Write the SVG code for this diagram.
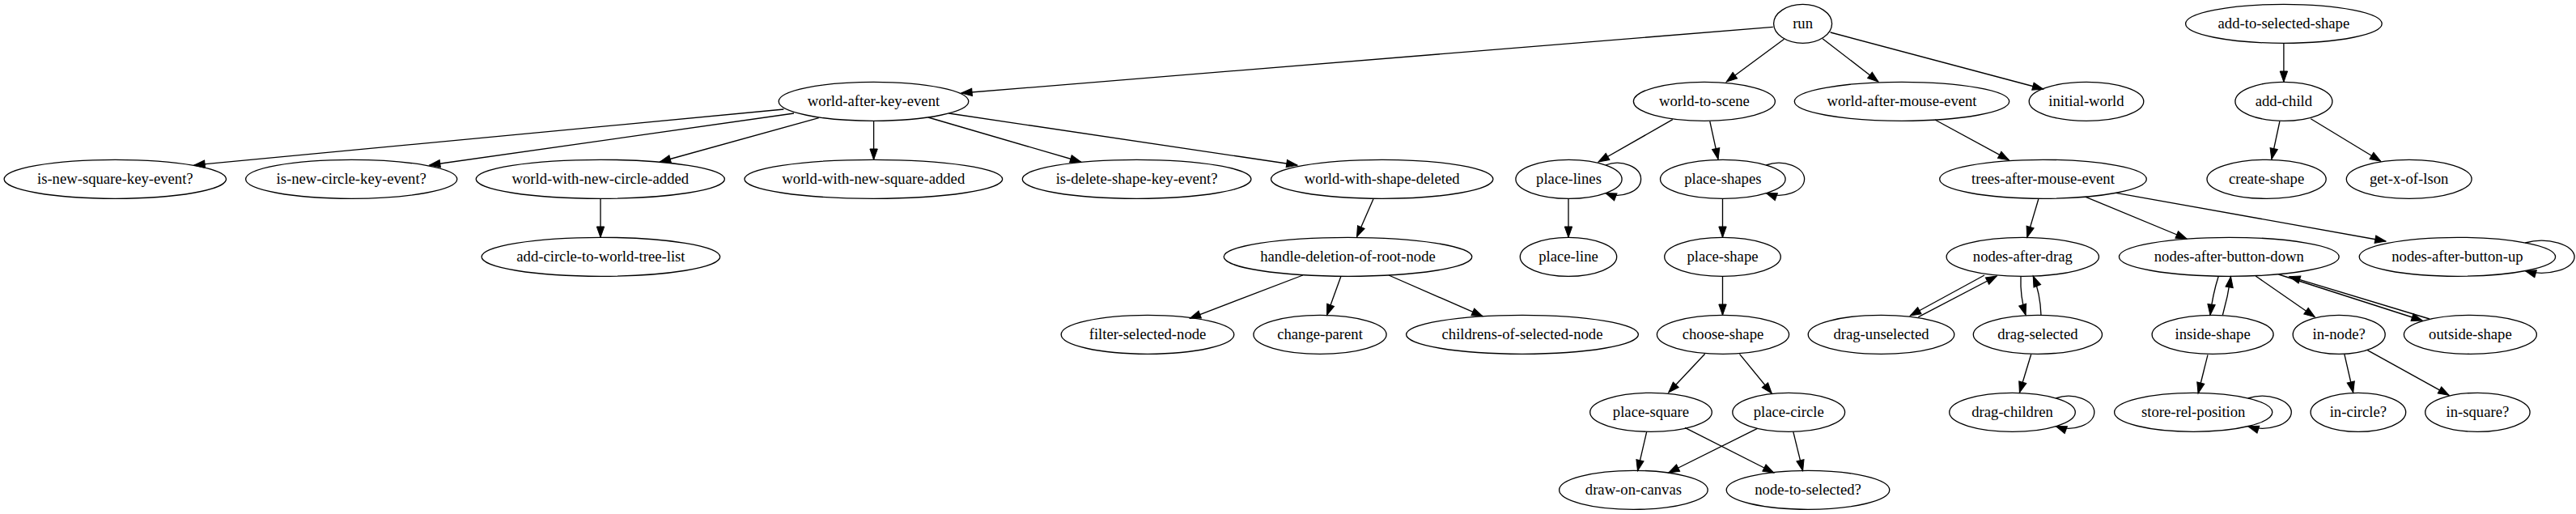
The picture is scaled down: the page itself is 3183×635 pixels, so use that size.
<svg xmlns="http://www.w3.org/2000/svg" width="3183" height="635" viewBox="0 0 3183 635">
<style>
.n ellipse{fill:none;stroke:#000;stroke-width:1.33}
.n text{font-family:"Liberation Serif","Times New Roman",serif;font-size:18.67px;text-anchor:middle;fill:#000}
#edges path{fill:none;stroke:#000;stroke-width:1.33;marker-end:url(#ah)}
</style>
<defs>
<marker id="ah" markerUnits="userSpaceOnUse" markerWidth="14" markerHeight="10" viewBox="0 0 14 10" refX="13.3" refY="4.7" orient="auto" overflow="visible">
<path d="M0,0 L13.3,4.7 L0,9.4 z" fill="#000" stroke="#000" stroke-width="1"/>
</marker>
</defs>
<rect x="0" y="0" width="3183" height="635" fill="#fff"/>
<g id="edges">
<path d="M2190.8,33.3 L1187.8,115"/>
<path d="M2204.6,48.3 L2133.2,101"/>
<path d="M2252,47.7 L2321,101"/>
<path d="M2261.7,40 L2524.8,110"/>
<path d="M968.4,135 L239.8,204"/>
<path d="M981,140 L530.6,204"/>
<path d="M1011.7,145.7 L815.3,200"/>
<path d="M1079.6,150 L1079.6,197.3"/>
<path d="M1146.9,145 L1335.7,200"/>
<path d="M1172.4,140 L1603,204"/>
<path d="M742,245.3 L742,293.3"/>
<path d="M1696.9,246 L1676.5,292.7"/>
<path d="M1609.8,340 L1470.3,393.3"/>
<path d="M1656.8,341.7 L1639.6,389.3"/>
<path d="M1716,340 L1832,390.7"/>
<path d="M2066.8,147.7 L1975,200"/>
<path d="M2112.8,150 L2123,196.7"/>
<path d="M1983.9,204 C2003.6,196.3 2027.6,206.3 2027.6,221.3 C2027.6,236.3 2003.6,246.3 1983.9,238.6"/>
<path d="M2182.3,204 C2203.6,196.3 2229.6,206.3 2229.6,221.3 C2229.6,236.3 2203.6,246.3 2182.3,238.6"/>
<path d="M1938,245.3 L1938,293.3"/>
<path d="M2128.5,245.3 L2128.5,293.3"/>
<path d="M2128.5,341.3 L2128.5,389.3"/>
<path d="M2106.6,437.3 L2061.7,485"/>
<path d="M2149.5,437.3 L2189.3,486"/>
<path d="M2034.7,533.3 L2023.5,581.7"/>
<path d="M2082,528.3 L2191.8,584"/>
<path d="M2171.4,529.3 L2061.7,584"/>
<path d="M2215.8,533.3 L2227.6,581.7"/>
<path d="M2391,148 L2482.4,197.7"/>
<path d="M2518.8,246 L2504.8,293.3"/>
<path d="M2577.2,243.3 L2702,295"/>
<path d="M2614.7,238.3 L2948,298"/>
<path d="M3120.3,300 C3147.7,292.3 3181.1,302.3 3181.1,317.3 C3181.1,332.3 3147.7,342.3 3120.3,334.6"/>
<path d="M2452,340 L2360.2,390"/>
<path d="M2370.4,391.7 L2467.3,341"/>
<path d="M2497,341.7 Q2496,366 2503,389.3"/>
<path d="M2522,389.3 Q2521,362 2512.2,341"/>
<path d="M2509.7,437.7 L2495.4,485"/>
<path d="M2540.3,492 C2561.7,484.3 2587.8,494.3 2587.8,509.3 C2587.8,524.3 2561.7,534.3 2540.3,526.6"/>
<path d="M2741.1,341.7 Q2734,364 2731,389.3"/>
<path d="M2746.4,389.3 Q2753,366 2756.5,341.7"/>
<path d="M2787.2,341 L2860.4,391.7"/>
<path d="M2815.6,339 L2993.2,396"/>
<path d="M3002,394 L2828.8,341.7"/>
<path d="M2728,438.3 L2716.1,486"/>
<path d="M2777.7,492 C2801.8,484.3 2831.3,494.3 2831.3,509.3 C2831.3,524.3 2801.8,534.3 2777.7,526.6"/>
<path d="M2896.8,437.3 L2907.7,485"/>
<path d="M2925.3,432.7 L3026.1,488.3"/>
<path d="M2821.9,53.3 L2821.9,101.3"/>
<path d="M2816.9,150 L2806.9,196.7"/>
<path d="M2855.3,146.7 L2941.8,199.3"/>
</g>
<g id="run" class="n"><ellipse cx="2227.6" cy="29.3" rx="36" ry="24"/><text x="2227.6" y="35.1">run</text></g>
<g id="world-after-key-event" class="n"><ellipse cx="1079.5" cy="125.3" rx="117.3" ry="24"/><text x="1079.5" y="131.1">world-after-key-event</text></g>
<g id="world-to-scene" class="n"><ellipse cx="2105.9" cy="125.3" rx="87.5" ry="24"/><text x="2105.9" y="131.1">world-to-scene</text></g>
<g id="world-after-mouse-event" class="n"><ellipse cx="2350" cy="125.3" rx="132.7" ry="24"/><text x="2350" y="131.1">world-after-mouse-event</text></g>
<g id="initial-world" class="n"><ellipse cx="2578" cy="125.3" rx="70.8" ry="24"/><text x="2578" y="131.1">initial-world</text></g>
<g id="add-to-selected-shape" class="n"><ellipse cx="2821.9" cy="29.3" rx="121.3" ry="24"/><text x="2821.9" y="35.1">add-to-selected-shape</text></g>
<g id="add-child" class="n"><ellipse cx="2821.9" cy="125.3" rx="60" ry="24"/><text x="2821.9" y="131.1">add-child</text></g>
<g id="is-new-square-key-event" class="n"><ellipse cx="142.3" cy="221.3" rx="137.2" ry="24"/><text x="142.3" y="227.1">is-new-square-key-event?</text></g>
<g id="is-new-circle-key-event" class="n"><ellipse cx="434.2" cy="221.3" rx="130.6" ry="24"/><text x="434.2" y="227.1">is-new-circle-key-event?</text></g>
<g id="world-with-new-circle-added" class="n"><ellipse cx="741.8" cy="221.3" rx="153.6" ry="24"/><text x="741.8" y="227.1">world-with-new-circle-added</text></g>
<g id="world-with-new-square-added" class="n"><ellipse cx="1079.3" cy="221.3" rx="159.4" ry="24"/><text x="1079.3" y="227.1">world-with-new-square-added</text></g>
<g id="is-delete-shape-key-event" class="n"><ellipse cx="1404.6" cy="221.3" rx="141.3" ry="24"/><text x="1404.6" y="227.1">is-delete-shape-key-event?</text></g>
<g id="world-with-shape-deleted" class="n"><ellipse cx="1707.7" cy="221.3" rx="137.2" ry="24"/><text x="1707.7" y="227.1">world-with-shape-deleted</text></g>
<g id="place-lines" class="n"><ellipse cx="1938.5" cy="221.3" rx="65.6" ry="24"/><text x="1938.5" y="227.1">place-lines</text></g>
<g id="place-shapes" class="n"><ellipse cx="2128.8" cy="221.3" rx="77.3" ry="24"/><text x="2128.8" y="227.1">place-shapes</text></g>
<g id="trees-after-mouse-event" class="n"><ellipse cx="2524.5" cy="221.3" rx="127.8" ry="24"/><text x="2524.5" y="227.1">trees-after-mouse-event</text></g>
<g id="create-shape" class="n"><ellipse cx="2800.6" cy="221.3" rx="73.6" ry="24"/><text x="2800.6" y="227.1">create-shape</text></g>
<g id="get-x-of-lson" class="n"><ellipse cx="2976.7" cy="221.3" rx="77.4" ry="24"/><text x="2976.7" y="227.1">get-x-of-lson</text></g>
<g id="add-circle-to-world-tree-list" class="n"><ellipse cx="742.4" cy="317.3" rx="147.3" ry="24"/><text x="742.4" y="323.1">add-circle-to-world-tree-list</text></g>
<g id="handle-deletion-of-root-node" class="n"><ellipse cx="1665.5" cy="317.3" rx="153.3" ry="24"/><text x="1665.5" y="323.1">handle-deletion-of-root-node</text></g>
<g id="place-line" class="n"><ellipse cx="1938" cy="317.3" rx="59.7" ry="24"/><text x="1938" y="323.1">place-line</text></g>
<g id="place-shape" class="n"><ellipse cx="2128.5" cy="317.3" rx="71.8" ry="24"/><text x="2128.5" y="323.1">place-shape</text></g>
<g id="nodes-after-drag" class="n"><ellipse cx="2499.3" cy="317.3" rx="94.2" ry="24"/><text x="2499.3" y="323.1">nodes-after-drag</text></g>
<g id="nodes-after-button-down" class="n"><ellipse cx="2754.3" cy="317.3" rx="135.9" ry="24"/><text x="2754.3" y="323.1">nodes-after-button-down</text></g>
<g id="nodes-after-button-up" class="n"><ellipse cx="3036.4" cy="317.3" rx="121.2" ry="24"/><text x="3036.4" y="323.1">nodes-after-button-up</text></g>
<g id="filter-selected-node" class="n"><ellipse cx="1418" cy="413.3" rx="106.8" ry="24"/><text x="1418" y="419.1">filter-selected-node</text></g>
<g id="change-parent" class="n"><ellipse cx="1631" cy="413.3" rx="82.1" ry="24"/><text x="1631" y="419.1">change-parent</text></g>
<g id="childrens-of-selected-node" class="n"><ellipse cx="1881" cy="413.3" rx="143.4" ry="24"/><text x="1881" y="419.1">childrens-of-selected-node</text></g>
<g id="choose-shape" class="n"><ellipse cx="2129" cy="413.3" rx="81.6" ry="24"/><text x="2129" y="419.1">choose-shape</text></g>
<g id="drag-unselected" class="n"><ellipse cx="2324.5" cy="413.3" rx="90.3" ry="24"/><text x="2324.5" y="419.1">drag-unselected</text></g>
<g id="drag-selected" class="n"><ellipse cx="2517.9" cy="413.3" rx="79.6" ry="24"/><text x="2517.9" y="419.1">drag-selected</text></g>
<g id="inside-shape" class="n"><ellipse cx="2734.1" cy="413.3" rx="75" ry="24"/><text x="2734.1" y="419.1">inside-shape</text></g>
<g id="in-node" class="n"><ellipse cx="2890.2" cy="413.3" rx="57" ry="24"/><text x="2890.2" y="419.1">in-node?</text></g>
<g id="outside-shape" class="n"><ellipse cx="3052.4" cy="413.3" rx="82" ry="24"/><text x="3052.4" y="419.1">outside-shape</text></g>
<g id="place-square" class="n"><ellipse cx="2040" cy="509.3" rx="75.3" ry="24"/><text x="2040" y="515.1">place-square</text></g>
<g id="place-circle" class="n"><ellipse cx="2210.2" cy="509.3" rx="69.4" ry="24"/><text x="2210.2" y="515.1">place-circle</text></g>
<g id="drag-children" class="n"><ellipse cx="2486.5" cy="509.3" rx="77.8" ry="24"/><text x="2486.5" y="515.1">drag-children</text></g>
<g id="store-rel-position" class="n"><ellipse cx="2710.2" cy="509.3" rx="97.6" ry="24"/><text x="2710.2" y="515.1">store-rel-position</text></g>
<g id="in-circle" class="n"><ellipse cx="2913.9" cy="509.3" rx="58.8" ry="24"/><text x="2913.9" y="515.1">in-circle?</text></g>
<g id="in-square" class="n"><ellipse cx="3061.4" cy="509.3" rx="64.7" ry="24"/><text x="3061.4" y="515.1">in-square?</text></g>
<g id="draw-on-canvas" class="n"><ellipse cx="2018.4" cy="605.3" rx="91.8" ry="24"/><text x="2018.4" y="611.1">draw-on-canvas</text></g>
<g id="node-to-selected" class="n"><ellipse cx="2234" cy="605.3" rx="100.8" ry="24"/><text x="2234" y="611.1">node-to-selected?</text></g>
</svg>
